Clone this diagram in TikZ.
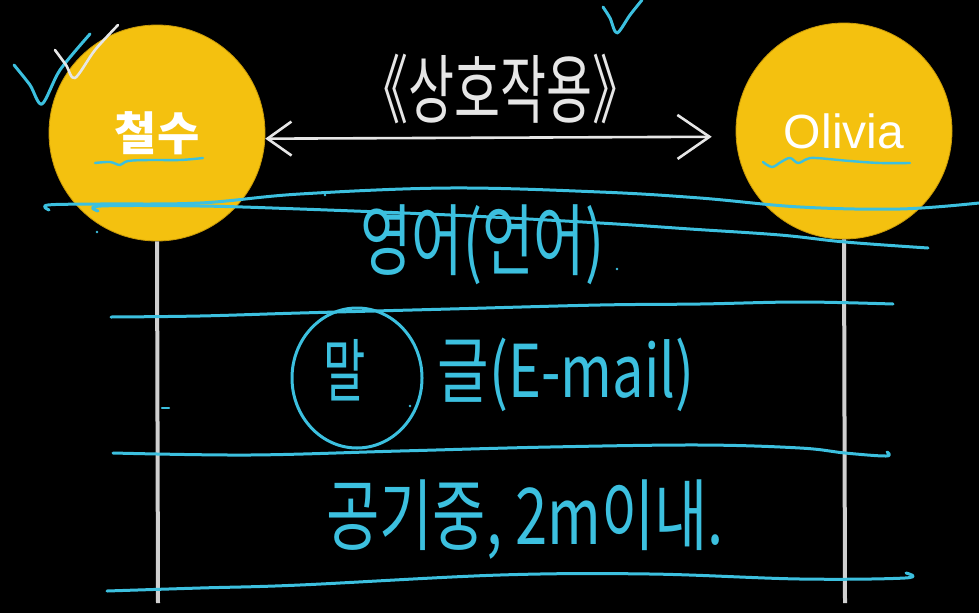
\documentclass[tikz,border=0pt]{standalone}
\usepackage{fontspec}
\usepackage{graphicx}
\setmainfont{Liberation Sans}
\newfontfamily\kr{Noto Sans CJK KR}
\usetikzlibrary{arrows.meta}
\definecolor{sunny}{HTML}{F4C10F}
\definecolor{sunnyedge}{HTML}{C99A08}
\definecolor{ink}{HTML}{3CC0DF}
\definecolor{chalk}{HTML}{E6E6E6}
\definecolor{pole}{HTML}{D0D0D0}
\tikzset{
  actor/.style={circle, fill=sunny, draw=sunnyedge, line width=0.8pt, minimum size=216pt, inner sep=0pt, text=white},
  lifeline/.style={draw=pole, line width=4pt},
  pen/.style={draw=ink, line width=3pt, line cap=round, line join=round},
  chalkpen/.style={draw=chalk, line width=2.6pt, line cap=round, line join=round},
  hand/.style={text=ink, inner sep=0pt},
  dot/.style={fill=ink, draw=none},
}
\begin{document}
\begin{tikzpicture}[x=1pt,y=-1pt]
\fill[black] (0,0) rectangle (979,613);
\useasboundingbox (0,0) rectangle (979,613);

% actors
\node[actor] (chulsu) at (157,133) {\kr\bfseries\fontsize{46}{50}\selectfont 철수};
\node[actor] (olivia) at (844,131) {\fontsize{48}{52}\selectfont Olivia};

% lifelines
\coordinate (chulsuEnd) at (158,603);
\coordinate (oliviaEnd) at (845,603);
\draw[lifeline] (chulsu.south) -- (chulsuEnd);
\draw[lifeline] (olivia.south) -- (oliviaEnd);

% interaction arrow
\draw[chalkpen, {Straight Barb[length=24pt,width=34pt]}-{Straight Barb[length=32pt,width=44pt]}, shorten >=24pt]
  (chulsu.-3) -- node[above=12pt, text=chalk, inner sep=0pt] (label)
  {\kr\fontsize{50}{54}\selectfont\scalebox{1}[1.5]{《상호작용》}} (olivia.183);

% check marks
\draw[pen] plot[smooth, tension=0.5] coordinates {(14,65) (30,85) (42,104) (60,70) (90,34)};
\draw[chalkpen] plot[smooth, tension=0.5] coordinates {(55,50) (66,65) (75,78) (95,50) (118,25)};
\draw[pen] plot[smooth, tension=0.5] coordinates {(603,7) (610,18) (617,33) (630,15) (642,0)};

% underlines under names
\draw[pen, line width=2.4pt] plot[smooth, tension=0.6] coordinates {(95,163) (110,162) (120,165) (128,161) (150,160) (180,160) (203,158)};
\draw[pen, line width=2.4pt] plot[smooth, tension=0.6] coordinates {(763,162) (772,167) (781,162) (790,158) (798,163) (807,159) (816,158) (850,161) (880,163) (910,163)};

% horizontal rules
\draw[pen] plot[smooth, tension=0.6] coordinates {(49,210) (48,205) (100,204) (200,203) (300,194) (450,188) (600,192) (700,198) (800,207) (900,209) (979,203)};
\draw[pen] plot[smooth, tension=0.6] coordinates {(98,211) (101,206) (200,206) (300,209) (450,215) (600,223) (690,229) (780,235) (845,242) (928,248)};
\draw[pen] plot[smooth, tension=0.6] coordinates {(111,317) (200,316) (300,313) (450,309) (600,305) (700,304) (800,302) (893,304)};
\draw[pen] plot[smooth, tension=0.6] coordinates {(113,453) (250,455) (400,451) (550,447) (700,445) (800,448) (845,453) (886,456) (887,452)};
\draw[pen] plot[smooth, tension=0.6] coordinates {(107,591) (200,588) (300,585) (500,575) (650,574) (800,579) (905,578) (906,573)};

% handwritten texts
\node[hand] (lang) at (482,245) {\kr\fontsize{56}{60}\selectfont\scalebox{1}[1.4]{영어(언어)}};
\node[hand] (mal) at (345,370) {\kr\fontsize{46}{50}\selectfont\scalebox{1}[1.5]{말}};
\draw[pen] (357,378) ellipse[x radius=65, y radius=70];
\node[hand] (geul) at (566,375) {\kr\fontsize{56}{60}\selectfont\scalebox{1}[1.3]{글(E-mail)}};
\node[hand] (air) at (525,520) {\kr\fontsize{58}{62}\selectfont\scalebox{1}[1.35]{공기중, 2m이내.}};

% small marks
\draw[pen, line width=2.4pt] (162,408) -- (169,408);
\fill[dot] (97,232) circle (1.4);
\fill[dot] (325,195) circle (1.4);
\fill[dot] (617,269) circle (1.4);
\fill[dot] (410,406) circle (1.4);
\end{tikzpicture}
\end{document}
